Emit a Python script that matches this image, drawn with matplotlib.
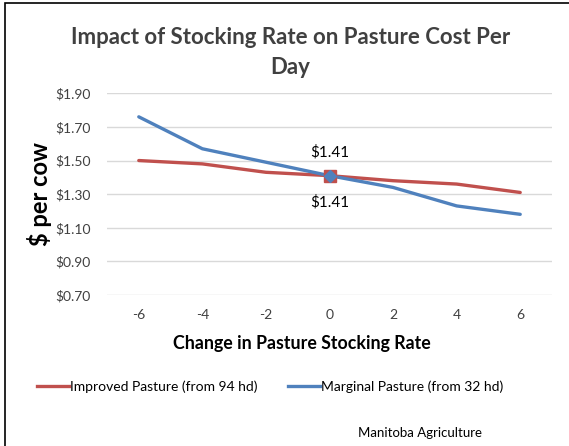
import matplotlib.pyplot as plt
from matplotlib.patches import Rectangle
from matplotlib.lines import Line2D

plt.rcParams['font.family'] = ['Lato', 'DejaVu Sans']
plt.rcParams['axes.unicode_minus'] = False

# --- Data ---
rate_change = [-6, -4, -2, 0, 2, 4, 6]
improved = [1.50, 1.48, 1.43, 1.41, 1.38, 1.36, 1.31]
marginal = [1.76, 1.57, 1.49, 1.41, 1.34, 1.23, 1.18]
y_ticks = [0.70, 0.90, 1.10, 1.30, 1.50, 1.70, 1.90]

red = '#C0504D'
blue = '#4F81BD'

fig = plt.figure(figsize=(5.69, 4.46), dpi=100)
ax = fig.add_axes([107 / 569, 1 - 295 / 446, 445 / 569, (295 - 93.3) / 446])

ax.plot(rate_change, improved, color=red, lw=2.4, solid_capstyle='round', zorder=3)
ax.plot(rate_change, marginal, color=blue, lw=2.4, solid_capstyle='round', zorder=4)

# highlighted point at zero change
i0 = rate_change.index(0)
ax.plot(rate_change[i0], improved[i0], marker='s', ms=8.5, color=red, zorder=5)
ax.plot(rate_change[i0], marginal[i0], marker='D', ms=6.5, color=blue, zorder=6)
ax.annotate(f"${improved[i0]:.2f}", (rate_change[i0], improved[i0]), xytext=(0, 17),
            textcoords='offset points', ha='center', va='center', fontsize=11)
ax.annotate(f"${marginal[i0]:.2f}", (rate_change[i0], marginal[i0]), xytext=(0, -19),
            textcoords='offset points', ha='center', va='center', fontsize=11)

ax.set_xlim(-7, 7)
ax.set_ylim(0.70, 1.90)
ax.set_xticks(rate_change)
ax.set_yticks(y_ticks)
ax.set_yticklabels([f"${v:.2f}" for v in y_ticks])
ax.tick_params(length=0, labelsize=10, colors='#404040', pad=10)
ax.tick_params(axis='y', pad=12)
ax.grid(axis='y', color='#D9D9D9', lw=1)
ax.set_axisbelow(True)
for s in ax.spines.values():
    s.set_visible(False)

fig.text(0.51, 1 - 38 / 446, "Impact of Stocking Rate on Pasture Cost Per", ha='center',
         va='center', fontsize=16, fontweight='bold', color='#404040')
fig.text(0.51, 1 - 68 / 446, "Day", ha='center', va='center', fontsize=16,
         fontweight='bold', color='#404040')
fig.text(40 / 569, 1 - 194 / 446, "$ per cow", rotation=90, ha='center', va='center',
         fontsize=17, fontweight='bold')
fig.text(302 / 569, 1 - 343 / 446, "Change in Pasture Stocking Rate", ha='center',
         va='center', fontsize=12.8, fontweight='bold')

handles = [Line2D([], [], color=red, lw=2.4), Line2D([], [], color=blue, lw=2.4)]
fig.legend(handles, ["Improved Pasture (from 94 hd)", "Marginal Pasture (from 32 hd)"],
           loc='center', bbox_to_anchor=(270 / 569, 1 - 387 / 446), ncol=2, frameon=False,
           fontsize=10, handlelength=2.3, handletextpad=0.05, columnspacing=2.2)

fig.text(420 / 569, 1 - 433 / 446, "Manitoba Agriculture", ha='center', va='center',
         fontsize=9.5)

fig.patches.append(Rectangle((5 / 569, -0.1), 1.2, 1 - 3 / 446 + 0.1, transform=fig.transFigure,
                             fill=False, edgecolor='black', lw=1.2))

fig.savefig("out.png", dpi=100)
